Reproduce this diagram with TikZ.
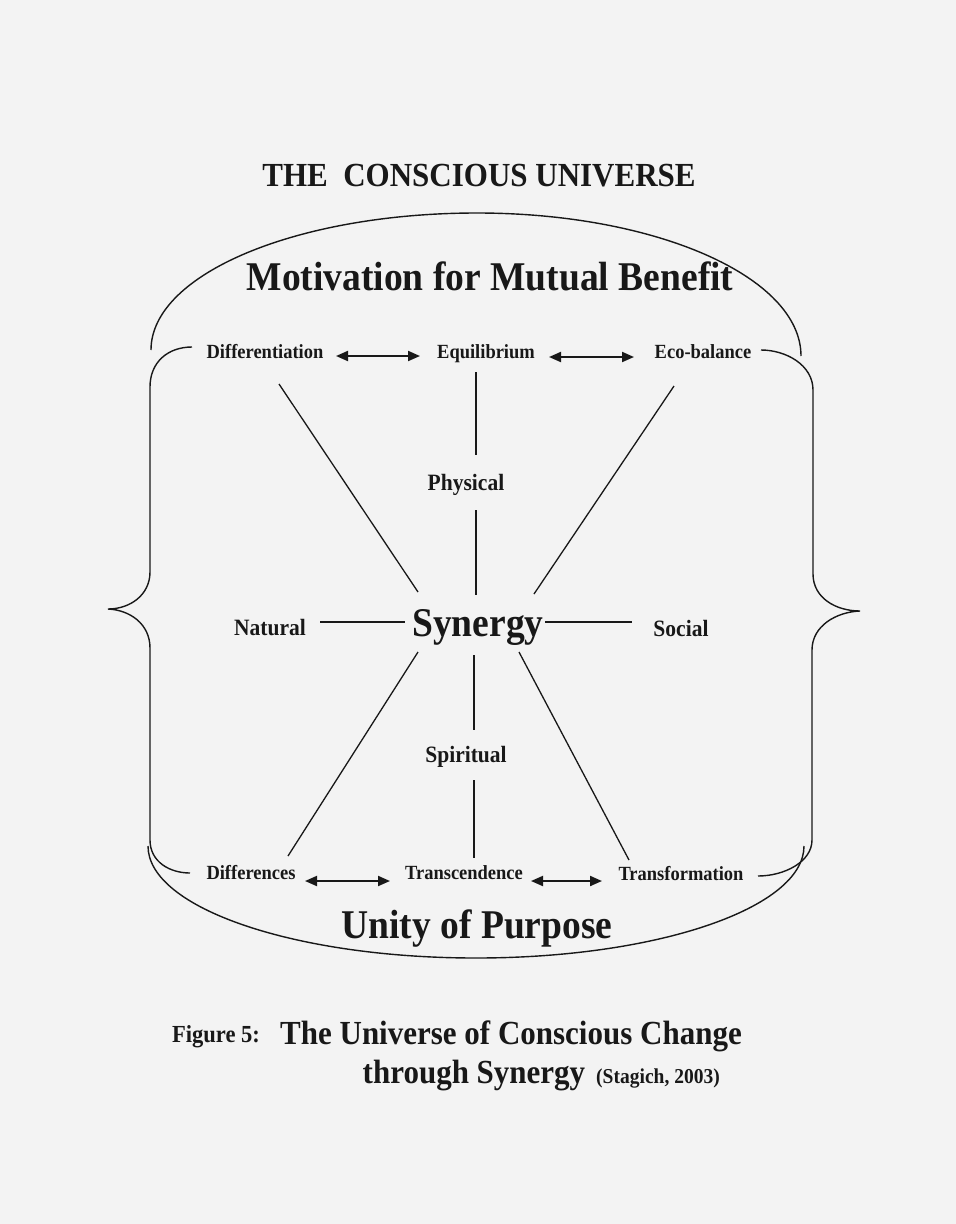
\documentclass[tikz,border=0pt]{standalone}
\usepackage{fontspec}
\setmainfont{Liberation Serif}[FakeStretch=0.92]
\usetikzlibrary{arrows.meta}
\definecolor{paper}{RGB}{243,243,243}
\definecolor{ink}{RGB}{24,24,24}
\begin{document}
\begin{tikzpicture}[x=1pt,y=-1pt,
  lbl/.style={inner sep=0pt, anchor=base, text=ink, font=\bfseries\fontsize{20.1}{22}\selectfont},
  dom/.style={lbl, font=\bfseries\fontsize{23.4}{25}\selectfont},
  big/.style={lbl, font=\bfseries\fontsize{40.8}{43}\selectfont},
  ttl/.style={lbl, font=\bfseries\fontsize{33.7}{36}\selectfont},
  small/.style={lbl, font=\bfseries\fontsize{24.5}{26}\selectfont},
  note/.style={lbl, font=\bfseries\fontsize{21.2}{23}\selectfont},
  spoke/.style={draw=ink, line width=1.3pt},
  biarrow/.style={draw=ink, line width=2pt, {Triangle[length=12pt,width=10pt]}-{Triangle[length=12pt,width=10pt]}},
  curve/.style={draw=ink, line width=1.4pt}]
% page
\fill[paper] (0,0) rectangle (956,1224);

% headings
\node[ttl] (title) at (479,186) {THE\ \ CONSCIOUS UNIVERSE};
\node[big] (motiv) at (490,290) {Motivation for Mutual Benefit};
\node[big] (unity) at (477,938) {Unity of Purpose};

% corner qualities
\node[lbl] (diff)  at (265,358) {Differentiation};
\node[lbl] (equi)  at (486,358) {Equilibrium};
\node[lbl] (eco)   at (703,358) {Eco-balance};
\node[lbl] (dlo)   at (251,879) {Differences};
\node[lbl] (trans) at (464,879) {Transcendence};
\node[lbl] (trf)   at (681,880) {Transformation};

% domains and centre
\node[dom] (phys) at (466,490) {Physical};
\node[dom] (spir) at (466,762) {Spiritual};
\node[dom] (nat)  at (270,635) {Natural};
\node[dom] (soc)  at (681,636) {Social};
\node[big] (syn)  at (478,636) {Synergy};

% caption
\node[small] (figno) at (216,1042) {Figure 5:};
\node[ttl] (cap1) at (511,1044) {The Universe of Conscious Change};
\node[ttl] (cap2) at (474,1083) {through Synergy};
\node[note] (cite) at (658,1083) {(Stagich, 2003)};

% ends of the connectors
\coordinate (diff-r) at (336,356);  \coordinate (equi-l) at (420,356);
\coordinate (equi-r) at (549,357);  \coordinate (eco-l)  at (634,357);
\coordinate (dlo-r)  at (305,881);  \coordinate (trans-l) at (390,881);
\coordinate (trans-r) at (531,881); \coordinate (trf-l)  at (602,881);

\coordinate (equi-b) at (476,372);  \coordinate (phys-t) at (476,455);
\coordinate (phys-b) at (476,510);  \coordinate (syn-t)  at (476,595);
\coordinate (syn-b)  at (474,655);  \coordinate (spir-t) at (474,730);
\coordinate (spir-b) at (474,780);  \coordinate (trans-t) at (474,858);

\coordinate (diff-b) at (279,384);  \coordinate (syn-tl) at (418,592);
\coordinate (eco-b)  at (674,386);  \coordinate (syn-tr) at (534,594);
\coordinate (syn-bl) at (418,652);  \coordinate (dlo-t)  at (288,856);
\coordinate (syn-br) at (519,652);  \coordinate (trf-t)  at (629,860);

\coordinate (nat-r) at (320,622);   \coordinate (syn-l) at (405,622);
\coordinate (syn-r) at (545,622);   \coordinate (soc-l) at (632,622);

% two-way arrows
\draw[biarrow] (diff-r) -- (equi-l);
\draw[biarrow] (equi-r) -- (eco-l);
\draw[biarrow] (dlo-r) -- (trans-l);
\draw[biarrow] (trans-r) -- (trf-l);

% spokes round Synergy
\draw[spoke] (equi-b) -- (phys-t);
\draw[spoke] (phys-b) -- (syn-t);
\draw[spoke] (syn-b) -- (spir-t);
\draw[spoke] (spir-b) -- (trans-t);
\draw[spoke] (diff-b) -- (syn-tl);
\draw[spoke] (eco-b) -- (syn-tr);
\draw[spoke] (syn-bl) -- (dlo-t);
\draw[spoke] (syn-br) -- (trf-t);
\draw[spoke] (nat-r) -- (syn-l);
\draw[spoke] (syn-r) -- (soc-l);

% dome over the top
\draw[curve] (151,350) .. controls (151,274) and (297,213) .. (477,213)
             .. controls (656,213) and (801,277) .. (801,356);
% bowl underneath
\draw[curve] (148,846) .. controls (148,908) and (295,958) .. (476,958)
             .. controls (657,958) and (804,908) .. (804,846);

% left brace
\draw[curve] (192,347) .. controls (168,347) and (150,362) .. (150,387)
  -- (150,572) .. controls (150,595) and (130,609) .. (108,609)
  .. controls (130,610) and (150,624) .. (150,648)
  -- (150,840) .. controls (150,862) and (170,873) .. (190,873);
% right brace
\draw[curve] (761,350) .. controls (786,350) and (813,365) .. (813,390)
  -- (813,574) .. controls (813,598) and (836,611) .. (860,611)
  .. controls (836,612) and (812,626) .. (812,650)
  -- (812,840) .. controls (812,862) and (784,876) .. (758,876);
\end{tikzpicture}
\end{document}
